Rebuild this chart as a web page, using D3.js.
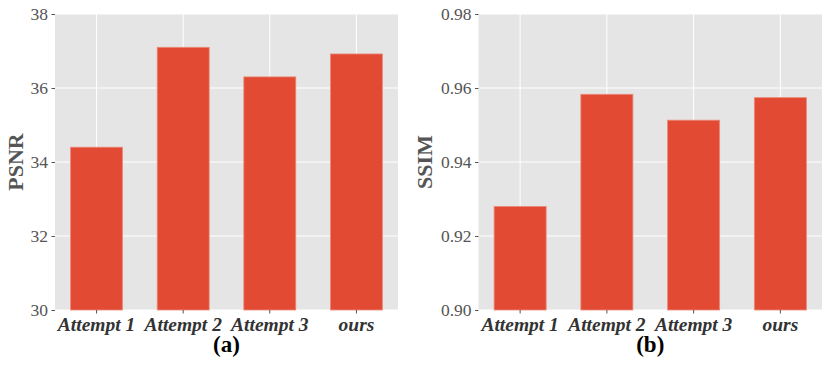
<!DOCTYPE html>
<html><head><meta charset="utf-8">
<script src="https://cdn.jsdelivr.net/npm/d3@7"></script>
<style>body{margin:0;background:#fff} svg text{font-family:'Liberation Serif','Times New Roman',serif;}</style>
</head><body>
<script>
const categories = ["Attempt 1", "Attempt 2", "Attempt 3", "ours"];
const psnrValues = [34.4, 37.1, 36.3, 36.92];
const ssimValues = [0.928, 0.9583, 0.9513, 0.9574];
const psnrTicks = [30, 32, 34, 36, 38];
const ssimTicks = [0.90, 0.92, 0.94, 0.96, 0.98];
const panelLabels = ["(a)", "(b)"];
const yLabels = ["PSNR", "SSIM"];

(function () {
const W = 830, H = 367;
const FONT = "'Liberation Serif','Times New Roman',serif";
const svg = d3.select("body").append("svg").attr("width", W).attr("height", H);

const panels = [
  {x0: 55, x1: 398, values: psnrValues, ticks: psnrTicks, domain: [30, 38], fmt: d3.format("d"), ylab: yLabels[0], lab: panelLabels[0], ylabX: 23},
  {x0: 478.5, x1: 822, values: ssimValues, ticks: ssimTicks, domain: [0.90, 0.98], fmt: d3.format(".2f"), ylab: yLabels[1], lab: panelLabels[1], ylabX: 432}
];
const plotTop = 14, plotBottom = 310;

panels.forEach(p => {
  const g = svg.append("g");
  const x = d3.scaleBand().domain(categories).range([p.x0, p.x1]).paddingInner(0.4).paddingOuter(0.18);
  const y = d3.scaleLinear().domain(p.domain).range([plotBottom, plotTop]);
  g.append("rect").attr("x", p.x0).attr("y", plotTop).attr("width", p.x1 - p.x0).attr("height", plotBottom - plotTop).attr("fill", "#E5E5E5");
  g.selectAll(".hg").data(p.ticks).join("line")
    .attr("x1", p.x0).attr("x2", p.x1).attr("y1", d => y(d)).attr("y2", d => y(d))
    .attr("stroke", "#fff").attr("stroke-width", 1);
  g.selectAll(".vg").data(categories).join("line")
    .attr("x1", d => x(d) + x.bandwidth()/2).attr("x2", d => x(d) + x.bandwidth()/2)
    .attr("y1", plotTop).attr("y2", plotBottom).attr("stroke", "#fff").attr("stroke-width", 1);
  g.selectAll(".bar").data(categories).join("rect")
    .attr("x", d => x(d)).attr("width", x.bandwidth())
    .attr("y", (d, i) => y(p.values[i])).attr("height", (d, i) => plotBottom - y(p.values[i]))
    .attr("fill", "#E24A33").attr("stroke", "#EC8A7A").attr("stroke-width", 0.8);
  const ya = d3.axisLeft(y).tickValues(p.ticks).tickFormat(p.fmt).tickSize(3.5).tickPadding(3.5);
  const yg = g.append("g").attr("transform", `translate(${p.x0},0)`).call(ya);
  yg.attr("font-family", null).attr("font-size", null);
  yg.select(".domain").remove();
  yg.selectAll("line").attr("stroke", "#555");
  yg.selectAll("text").style("font-family", FONT).style("font-size", "17.5px").attr("fill", "#555");
  const xa = d3.axisBottom(x).tickSize(3.5).tickPadding(3);
  const xg = g.append("g").attr("transform", `translate(0,${plotBottom})`).call(xa);
  xg.attr("font-family", null).attr("font-size", null);
  xg.select(".domain").remove();
  xg.selectAll("line").attr("stroke", "#555");
  xg.selectAll("text").style("font-family", FONT).style("font-size", "19.5px")
    .style("font-weight", "bold").style("font-style", "italic").attr("fill", "#333").attr("dy", "0.75em");
  g.append("text").attr("transform", `translate(${p.ylabX},${(plotTop + plotBottom)/2}) rotate(-90)`)
    .attr("text-anchor", "middle").style("font-family", FONT)
    .style("font-size", "22px").style("font-weight", "bold").attr("fill", "#555").text(p.ylab);
  g.append("text").attr("x", (p.x0 + p.x1)/2).attr("y", 352).attr("text-anchor", "middle")
    .style("font-family", FONT).style("font-size", "23px")
    .style("font-weight", "bold").attr("fill", "#000").text(p.lab);
});
})();
</script>
</body></html>
